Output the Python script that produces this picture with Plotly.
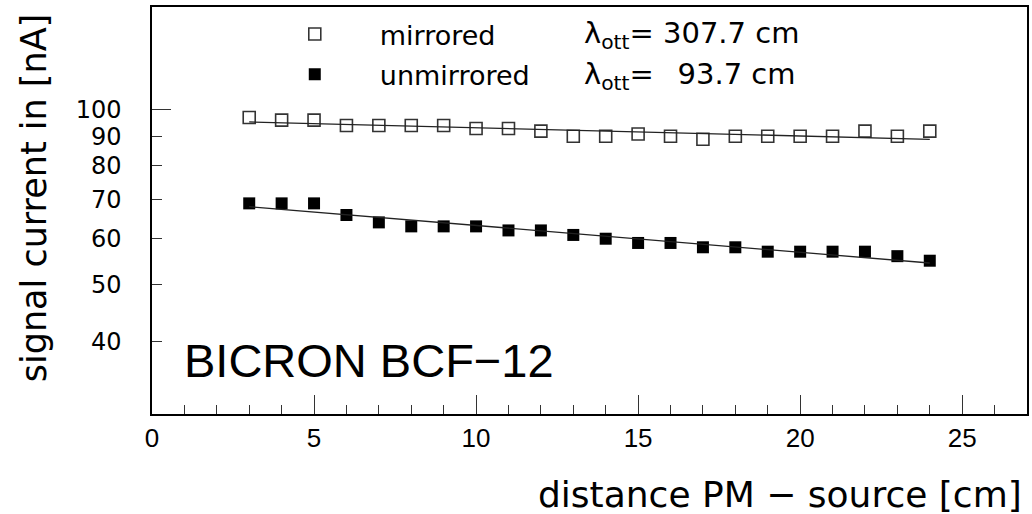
import plotly.graph_objects as go

# ---- data ----
distance_cm = [3, 4, 5, 6, 7, 8, 9, 10, 11, 12, 13, 14, 15, 16, 17, 18, 19, 20, 21, 22, 23, 24]
mirrored_nA = [96.9, 95.9, 95.9, 93.9, 93.9, 93.9, 93.9, 92.8, 92.8, 91.8, 90.0, 90.0,
               90.8, 90.0, 88.9, 90.0, 90.0, 90.0, 90.0, 91.8, 90.0, 91.8]
unmirrored_nA = [69.0, 69.0, 69.0, 65.9, 64.0, 63.0, 63.0, 63.0, 62.0, 62.0, 60.9, 60.0,
                 59.0, 59.0, 58.0, 58.0, 57.0, 57.0, 57.0, 57.0, 56.0, 55.0]

# exponential fits (straight lines on the log axis), end points
fit_x = [3, 24]
fit_mirrored = [95.2, 88.9]
fit_unmirrored = [68.1, 54.5]

y_tick_vals = [40, 50, 60, 70, 80, 90, 100]
y_tick_text = ["40", "50", "60", "70", "80", "90", "100"]
x_tick_vals = [0, 5, 10, 15, 20, 25]

lambda_labels = ["λ<sub>ott</sub>= 307.7 cm", "λ<sub>ott</sub>= \u200293.7 cm"]
series_names = ["mirrored", "unmirrored"]

# ---- layout geometry (pixels) ----
W, H = 1032, 514
L, R, T, B = 152, 1029, 7, 414
PW, PH = R - L, B - T


def px(xp):
    return (xp - L) / PW


def py(yp):
    return 1 - (yp - T) / PH


FONT = "DejaVu Sans"

fig = go.Figure()

fig.add_trace(go.Scatter(
    x=fit_x, y=fit_mirrored, mode="lines", yaxis="y2",
    line=dict(color="#222222", width=1.3), showlegend=False, hoverinfo="skip"))
fig.add_trace(go.Scatter(
    x=fit_x, y=fit_unmirrored, mode="lines", yaxis="y2",
    line=dict(color="#222222", width=1.3), showlegend=False, hoverinfo="skip"))

fig.add_trace(go.Scatter(
    x=distance_cm, y=mirrored_nA, mode="markers", name=series_names[0],
    legendgroup="a",
    marker=dict(symbol="square-open", size=12, color="#333333",
                line=dict(width=1.6, color="#333333"))))
fig.add_trace(go.Scatter(
    x=distance_cm, y=unmirrored_nA, mode="markers", name=series_names[1],
    legendgroup="b",
    marker=dict(symbol="square", size=12, color="black",
                line=dict(width=0))))

annotations = []
for i, lab in enumerate(lambda_labels):
    annotations.append(dict(
        text=lab, xref="paper", yref="paper", x=px(583), y=py([35, 76][i]),
        xanchor="left", yanchor="middle", showarrow=False,
        font=dict(family=FONT, size=29, color="black")))

annotations.append(dict(
    text="BICRON BCF\u221212", xref="paper", yref="paper", x=px(182), y=py(360),
    xanchor="left", yanchor="middle", showarrow=False,
    font=dict(family="Liberation Sans", size=47, color="black")))

annotations.append(dict(
    text="signal current in [nA]", xref="paper", yref="paper", x=px(34), y=py(198),
    xanchor="center", yanchor="middle", textangle=-90, showarrow=False,
    font=dict(family=FONT, size=35, color="black")))

annotations.append(dict(
    text="distance PM \u2212 source [cm]", xref="paper", yref="paper", x=px(1026), y=py(494),
    xanchor="right", yanchor="middle", showarrow=False,
    font=dict(family=FONT, size=36, color="black")))

fig.update_layout(
    width=W, height=H,
    margin=dict(l=L, r=W - R, t=T, b=H - B, pad=0),
    paper_bgcolor="white", plot_bgcolor="white",
    showlegend=True,
    legend=dict(x=px(250), y=py(10), xanchor="left", yanchor="top",
                bgcolor="rgba(0,0,0,0)", itemwidth=120,
                traceorder="grouped", tracegroupgap=2,
                font=dict(family=FONT, size=27, color="black")),
    annotations=annotations,
    xaxis=dict(
        range=[0, 27], showgrid=False, zeroline=False,
        showline=True, linecolor="black", linewidth=1.5, mirror=True,
        tickmode="array", tickvals=x_tick_vals,
        ticks="inside", ticklen=19, tickwidth=1, tickcolor="#333333",
        ticklabelstandoff=0,
        tickfont=dict(family="Liberation Sans", size=26, color="black"),
        minor=dict(dtick=1, ticks="inside", ticklen=9, tickwidth=1, tickcolor="#333333"),
    ),
    yaxis=dict(
        type="log", range=[1.4771, 2.1761], showgrid=False, zeroline=False,
        showline=True, linecolor="black", linewidth=1.5, mirror=True,
        tickmode="array", tickvals=y_tick_vals, ticktext=y_tick_text,
        ticks="inside", ticklen=10, tickwidth=1, tickcolor="#333333",
        ticklabelstandoff=24,
        tickfont=dict(family=FONT, size=24, color="black"),
    ),
    yaxis2=dict(
        type="log", range=[1.4771, 2.1761], overlaying="y", side="left",
        showgrid=False, zeroline=False, showline=False,
        tickmode="array", tickvals=[100], showticklabels=False,
        ticks="inside", ticklen=19, tickwidth=1, tickcolor="#333333",
    ),
)

fig.write_html("out.html")
